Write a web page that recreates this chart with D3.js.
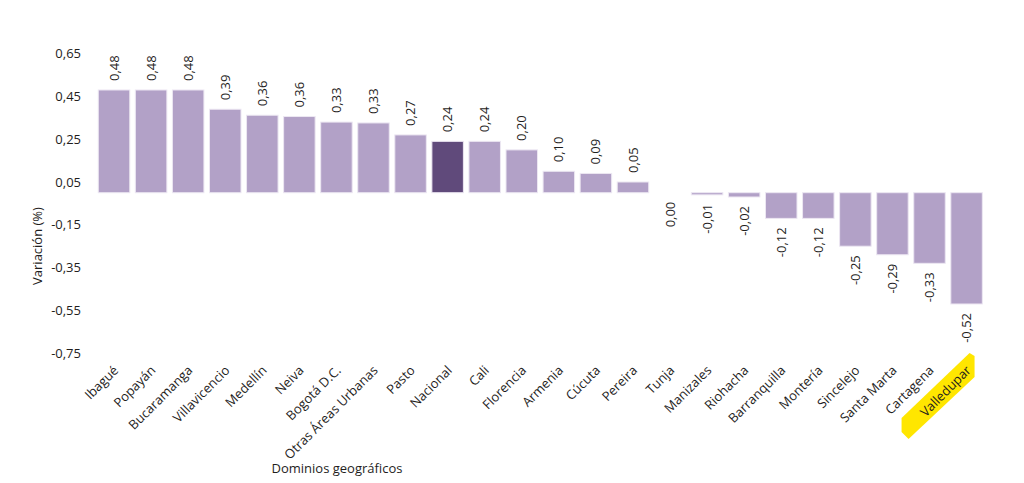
<!DOCTYPE html>
<html><head><meta charset="utf-8">
<script src="https://cdn.jsdelivr.net/npm/d3@7"></script>
<style>
body{margin:0;background:#fff;}
text{font-family:"Segoe UI","Open Sans","Noto Sans",sans-serif;fill:#1f1e1d;}
</style></head>
<body><svg id="c" width="1024" height="483"></svg>
<script>
const categories = ["Ibagué","Popayán","Bucaramanga","Villavicencio","Medellín","Neiva","Bogotá D.C.","Otras Áreas Urbanas","Pasto","Nacional","Cali","Florencia","Armenia","Cúcuta","Pereira","Tunja","Manizales","Riohacha","Barranquilla","Montería","Sincelejo","Santa Marta","Cartagena","Valledupar"];
const values = [0.48,0.48,0.48,0.39,0.362,0.356,0.33,0.326,0.27,0.24,0.24,0.20,0.10,0.09,0.05,0.00,-0.01,-0.02,-0.12,-0.12,-0.25,-0.29,-0.33,-0.52];
const yTicks = [0.65,0.45,0.25,0.05,-0.15,-0.35,-0.55,-0.75];
const highlighted = "Nacional";
const marked = "Valledupar";

const svg = d3.select("#c");
const x = d3.scaleBand().domain(categories).range([95.5,985.1]).paddingInner(0.15).paddingOuter(0.075);
const y = d3.scaleLinear().domain([-0.75,0.65]).range([353.2,53.6]);
const fmt = v => d3.format(".2f")(v).replace(".",",").replace("−","-");

// y tick labels
svg.append("g").selectAll("text").data(yTicks).join("text")
  .attr("x",81).attr("y",d=>y(d)).attr("dy","0.35em")
  .attr("text-anchor","end").attr("font-size",13).text(fmt);

// y title
svg.append("text").attr("transform",`translate(37,246) rotate(-90)`)
  .attr("dy","0.35em").attr("text-anchor","middle").attr("font-size",13).text("Variación (%)");

// bars
svg.append("g").selectAll("rect").data(categories).join("rect")
  .attr("x",d=>x(d)).attr("width",x.bandwidth())
  .attr("y",(d,i)=>y(Math.max(0,values[i])))
  .attr("height",(d,i)=>Math.abs(y(values[i])-y(0)))
  .attr("fill",d=>d===highlighted?"#604a7b":"#b2a1c7")
  .attr("stroke","#ece7f2").attr("stroke-width",1);

// value labels
svg.append("g").selectAll("text").data(categories).join("text")
  .attr("transform",(d,i)=>{
    const cx = x(d)+x.bandwidth()/2;
    const yy = values[i]>0 ? y(values[i])-9 : y(Math.min(0,values[i]))+9;
    return `translate(${cx},${yy}) rotate(-90)`;})
  .attr("dy","0.35em")
  .attr("text-anchor",(d,i)=>values[i]>0?"start":"end")
  .attr("font-size",13).text((d,i)=>fmt(values[i]));

// highlight behind marked label
{
  const cx = x(marked)+x.bandwidth()/2;
  const pts = [[cx-65,418],[cx-65,432],[cx-58,439],[cx+8,377],[cx+8,356],[cx+3,353]];
  svg.append("polygon").attr("points",pts.map(p=>p.join(",")).join(" ")).attr("fill","#ffe600");
}

// x labels
svg.append("g").selectAll("text").data(categories).join("text")
  .attr("transform",d=>`translate(${x(d)+x.bandwidth()/2+2},368) rotate(-45)`)
  .attr("dy","0.35em")
  .attr("text-anchor","end").attr("font-size",13).text(d=>d);

// x title
svg.append("text").attr("x",337).attr("y",468).attr("dy","0.35em")
  .attr("text-anchor","middle").attr("font-size",13).text("Dominios geográficos");
</script></body></html>
